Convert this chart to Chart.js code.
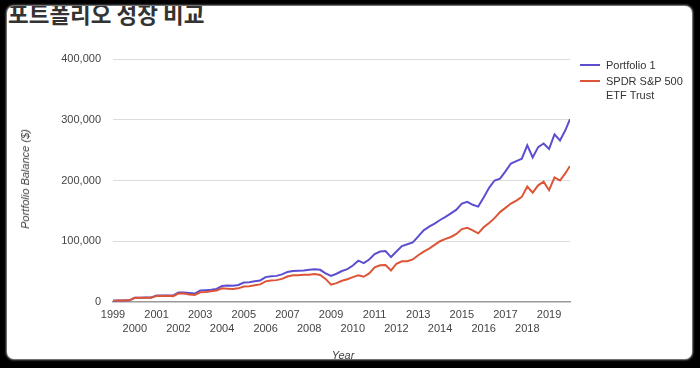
<!DOCTYPE html>
<html>
<head>
<meta charset="utf-8">
<script src="https://cdn.jsdelivr.net/npm/chart.js@4/dist/chart.umd.min.js"></script>
<style>
  html, body { margin:0; padding:0; }
  body { width:700px; height:368px; background:#000; position:relative; overflow:hidden; font-family:"Liberation Sans", Arial, sans-serif; }
  #card { position:absolute; left:7px; top:6px; width:685px; height:353px; background:#fff; border-radius:7px; box-shadow:0 0 2px 1px #999; overflow:hidden; }
  #title { position:absolute; left:1px; top:-9px; font-family:"Noto Sans CJK KR", sans-serif; font-weight:bold; font-size:22.5px; color:#333; white-space:nowrap; }
  #ytitle { position:absolute; left:25px; top:179px; transform:translate(-50%,-50%) rotate(-90deg); font-style:italic; font-size:11px; color:#444; white-space:nowrap; }
  #xtitle { position:absolute; left:343px; top:355px; transform:translate(-50%,-50%); font-style:italic; font-size:11px; color:#444; white-space:nowrap; }
  #legend { position:absolute; left:580px; top:58px; font-size:11px; color:#333; line-height:14px; }
  .li { position:relative; padding-left:26px; margin-bottom:2px; }
  .sw { position:absolute; left:0; top:6px; width:20px; height:2px; }
  canvas { position:absolute; left:0; top:0; }
</style>
</head>
<body>
<div id="card"><div id="title">포트폴리오 성장 비교</div></div>
<canvas id="c" width="700" height="368"></canvas>
<div id="ytitle">Portfolio Balance ($)</div>
<div id="xtitle">Year</div>
<div id="legend">
  <div class="li"><span class="sw" style="background:#5b4fd0"></span>Portfolio 1</div>
  <div class="li"><span class="sw" style="background:#dc5536"></span>SPDR S&amp;P 500<br>ETF Trust</div>
</div>
<script>
const seriesNames = ["Portfolio 1", "SPDR S&P 500 ETF Trust"];
const times = [
 1999.00,1999.25,1999.50,1999.75,2000.00,2000.25,2000.50,2000.75,
 2001.00,2001.25,2001.50,2001.75,2002.00,2002.25,2002.50,2002.75,
 2003.00,2003.25,2003.50,2003.75,2004.00,2004.25,2004.50,2004.75,
 2005.00,2005.25,2005.50,2005.75,2006.00,2006.25,2006.50,2006.75,
 2007.00,2007.25,2007.50,2007.75,2008.00,2008.25,2008.50,2008.75,
 2009.00,2009.25,2009.50,2009.75,2010.00,2010.25,2010.50,2010.75,
 2011.00,2011.25,2011.50,2011.75,2012.00,2012.25,2012.50,2012.75,
 2013.00,2013.25,2013.50,2013.75,2014.00,2014.25,2014.50,2014.75,
 2015.00,2015.25,2015.50,2015.75,2016.00,2016.25,2016.50,2016.75,
 2017.00,2017.25,2017.50,2017.75,2018.00,2018.25,2018.50,2018.75,
 2019.00,2019.25,2019.50,2019.75,2019.96
];
const portfolio1 = [
 2000,2500,2500,2800,7000,7200,7300,7500,
 10500,10500,10800,10500,15500,15500,14800,13800,
 19000,19500,20000,21500,26500,27000,26800,28000,
 32000,32500,34000,35500,41000,42500,43000,45500,
 49500,51000,51500,52000,53000,54000,53000,47000,
 43000,46500,51000,54000,60000,68000,64000,70000,
 79000,83000,84000,74000,83000,92000,95000,98000,
 108000,118000,124000,129000,135000,140000,146000,152000,
 162000,165000,160000,157000,172000,188000,200000,203000,
 215000,228000,232000,236000,258000,238000,255000,261000,
 252000,276000,266000,283000,301000
];
const spdr = [
 2000,2500,2500,2800,7000,7100,7000,7000,
 10000,10000,10200,9500,14000,13800,12500,11500,
 16000,16500,17500,19000,22500,22000,21500,22500,
 25500,26000,27500,29000,34000,35500,36000,38000,
 42000,44000,44000,45000,45000,46000,44500,38000,
 28500,31000,35000,37500,41000,44000,41500,47000,
 57000,60500,61000,52000,63000,67000,67000,70000,
 77000,83000,88000,94000,100000,104000,107000,112000,
 120000,122000,118000,113000,123000,130000,138000,148000,
 155000,162000,167000,173000,190000,180000,192000,198000,
 184000,205000,200000,212000,224000
];
const yTicks = [0, 100000, 200000, 300000, 400000];
const xTickYears = [1999,2000,2001,2002,2003,2004,2005,2006,2007,2008,2009,2010,2011,2012,2013,2014,2015,2016,2017,2018,2019];

const toPts = vals => vals.map((v, i) => ({x: times[i], y: v}));

new Chart(document.getElementById('c'), {
  type: 'line',
  data: {
    datasets: [
      { label: seriesNames[0], data: toPts(portfolio1), borderColor: '#5b4fd0', borderWidth: 2, pointRadius: 0, tension: 0, order: 2 },
      { label: seriesNames[1], data: toPts(spdr), borderColor: '#dc5536', borderWidth: 2, pointRadius: 0, tension: 0, order: 1 }
    ]
  },
  options: {
    responsive: false,
    animation: false,
    layout: { padding: { left: 0, right: 130, top: 59, bottom: 0 } },
    plugins: { legend: { display: false }, tooltip: { enabled: false } },
    scales: {
      x: {
        type: 'linear',
        min: 1999, max: 2019.96,
        afterFit: s => { s.height = 66; },
        afterBuildTicks: s => { s.ticks = xTickYears.map(v => ({value: v})); },
        grid: { display: false, drawTicks: false },
        border: { display: true, color: '#999', width: 1.5 },
        ticks: {
          includeBounds: false, autoSkip: false, maxRotation: 0, minRotation: 0, padding: 6,
          color: '#444', font: { family: '"Liberation Sans", Arial, sans-serif', size: 11, lineHeight: 1.27 },
          callback: v => ((v - 1999) % 2 === 0) ? [String(v), ''] : ['', String(v)]
        }
      },
      y: {
        min: 0, max: 400000,
        afterFit: s => { s.width = 113; },
        afterBuildTicks: s => { s.ticks = yTicks.map(v => ({value: v})); },
        grid: { color: ctx => ctx.tick && ctx.tick.value === 0 ? 'rgba(0,0,0,0)' : '#dcdcdc', drawTicks: false, lineWidth: 1 },
        border: { display: false },
        ticks: {
          padding: 12, color: '#444',
          font: { family: '"Liberation Sans", Arial, sans-serif', size: 11 },
          callback: v => v.toLocaleString('en-US')
        }
      }
    }
  }
});
</script>
</body>
</html>
